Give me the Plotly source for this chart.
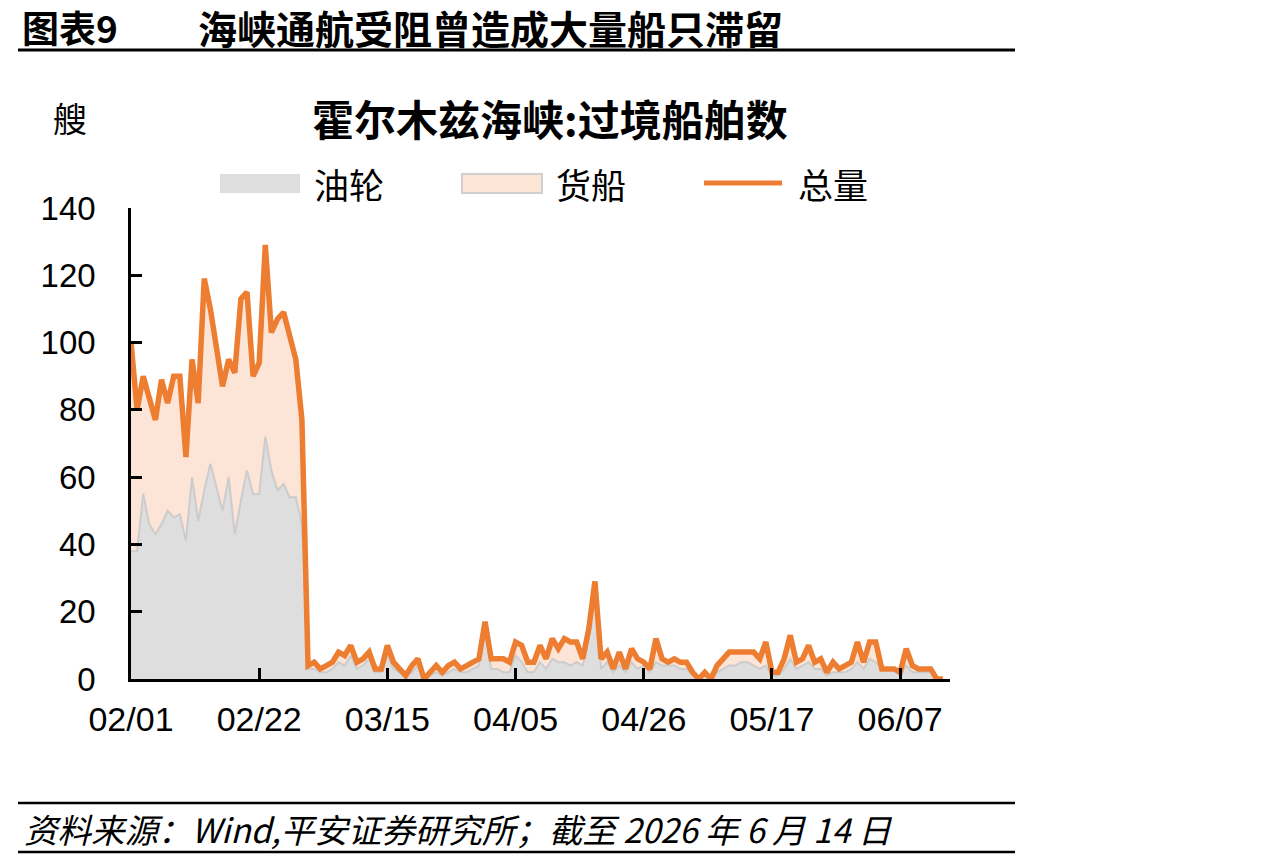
import plotly.graph_objects as go
import pandas as pd

# ---------------- data ----------------
start_date = "2026-02-01"
total = [100, 80, 90, 83, 77, 89, 82, 90, 90, 66,
         95, 82, 119, 110, 98, 87, 95, 91, 113, 115,
         90, 94, 129, 103, 107, 109, 102, 95, 77, 4,
         5, 3, 4, 5, 8, 7, 10, 5, 6, 8,
         3, 3, 10, 5, 3, 1, 4, 6, 0, 2,
         4, 2, 4, 5, 3, 4, 5, 6, 17, 6,
         6, 6, 5, 11, 10, 5, 5, 10, 6, 12,
         9, 12, 11, 11, 6, 15, 29, 6, 8, 3,
         8, 3, 9, 6, 5, 3, 12, 6, 5, 6,
         5, 5, 2, 0, 2, 0, 4, 6, 8, 8,
         8, 8, 8, 6, 11, 2, 2, 6, 13, 5,
         6, 10, 5, 6, 2, 5, 3, 4, 5, 11,
         5, 11, 11, 3, 3, 3, 2, 9, 4, 3,
         3, 3, 0, 0]
tanker = [38, 38, 55, 46, 43, 46, 50, 48, 49, 41,
          60, 47, 56, 64, 57, 50, 60, 43, 53, 62,
          55, 55, 72, 62, 56, 58, 54, 54, 46, 3,
          3, 2, 2, 3, 5, 4, 7, 3, 4, 6,
          2, 2, 7, 3, 2, 1, 2, 4, 0, 1,
          2, 1, 2, 3, 2, 2, 3, 4, 15, 3,
          3, 2, 2, 7, 5, 2, 2, 5, 3, 6,
          5, 5, 4, 5, 4, 12, 26, 3, 5, 2,
          4, 2, 5, 3, 4, 2, 5, 4, 4, 4,
          3, 3, 1, 0, 1, 0, 2, 3, 4, 4,
          5, 5, 4, 3, 4, 1, 1, 3, 6, 3,
          4, 5, 3, 3, 1, 2, 2, 2, 3, 5,
          3, 6, 5, 3, 3, 3, 1, 4, 2, 2,
          2, 2, 0, 0]
tick_dates = ["2026-02-01", "2026-02-22", "2026-03-15", "2026-04-05",
              "2026-04-26", "2026-05-17", "2026-06-07"]
tick_text = ["02/01", "02/22", "03/15", "04/05", "04/26", "05/17", "06/07"]
y_ticks = [0, 20, 40, 60, 80, 100, 120, 140]
series_names = ["油轮", "货船", "总量"]

dates = pd.date_range(start_date, periods=len(total), freq="D")
cargo = [t - k for t, k in zip(total, tanker)]

# ---------------- layout helpers ----------------
W, H = 1267, 859
L, R, T, B = 131, 950, 208, 679


def px(x):
    return (x - L) / (R - L)


def py(y):
    return (B - y) / (B - T)


CJK = "Noto Sans CJK SC, sans-serif"
LAT = "Liberation Sans, Arial, sans-serif"
ORANGE = "#ED7D31"
GREY_FILL = "#DEDEDE"
GREY_LINE = "#CCCCCC"
PEACH = "#FCE4D6"

fig = go.Figure()
fig.add_trace(go.Scatter(x=dates, y=tanker, name=series_names[0], stackgroup="s",
                         mode="lines", line=dict(color=GREY_LINE, width=2),
                         fillcolor=GREY_FILL, hoverinfo="skip"))
fig.add_trace(go.Scatter(x=dates, y=cargo, name=series_names[1], stackgroup="s",
                         mode="lines", line=dict(color="#E6D2C6", width=1),
                         fillcolor=PEACH, hoverinfo="skip"))
fig.add_trace(go.Scatter(x=dates, y=total, name=series_names[2], mode="lines",
                         line=dict(color=ORANGE, width=5.5), hoverinfo="skip"))

shapes = []
# header rule and footer rules
for yy, w in [(50, 3), (803, 2.5), (852, 2.5)]:
    shapes.append(dict(type="line", xref="paper", yref="paper",
                       x0=px(18), x1=px(1015), y0=py(yy), y1=py(yy),
                       line=dict(color="black", width=w)))
# legend symbols
shapes.append(dict(type="rect", xref="paper", yref="paper",
                   x0=px(220), x1=px(300), y0=py(193), y1=py(174),
                   fillcolor=GREY_FILL, line=dict(width=0)))
shapes.append(dict(type="rect", xref="paper", yref="paper",
                   x0=px(462), x1=px(542), y0=py(193), y1=py(174),
                   fillcolor=PEACH, line=dict(color="#CFCFCF", width=2)))
shapes.append(dict(type="line", xref="paper", yref="paper",
                   x0=px(704), x1=px(782), y0=py(183), y1=py(183),
                   line=dict(color=ORANGE, width=5)))

annotations = [
    dict(text="<b>图表9</b>", x=px(20), y=py(27), xanchor="left", yanchor="middle",
         font=dict(family=CJK, size=37, color="black")),
    dict(text="<b>海峡通航受阻曾造成大量船只滞留</b>", x=px(196), y=py(27),
         xanchor="left", yanchor="middle",
         font=dict(family=CJK, size=39, color="black")),
    dict(text="艘", x=px(70), y=py(117), xanchor="center", yanchor="middle",
         font=dict(family=CJK, size=34, color="black")),
    dict(text="<b>霍尔木兹海峡:过境船舶数</b>", x=px(550), y=py(117),
         xanchor="center", yanchor="middle",
         font=dict(family=CJK, size=42, color="black")),
    dict(text=series_names[0], x=px(312), y=py(183), xanchor="left", yanchor="middle",
         font=dict(family=CJK, size=35, color="black")),
    dict(text=series_names[1], x=px(554), y=py(183), xanchor="left", yanchor="middle",
         font=dict(family=CJK, size=35, color="black")),
    dict(text=series_names[2], x=px(796), y=py(183), xanchor="left", yanchor="middle",
         font=dict(family=CJK, size=35, color="black")),
    dict(text="<i>资料来源：Wind,平安证券研究所；截至 2026 年 6 月 14 日</i>",
         x=px(22), y=py(828), xanchor="left", yanchor="middle",
         font=dict(family=CJK, size=33.5, color="black")),
]
for a in annotations:
    a.update(xref="paper", yref="paper", showarrow=False)

fig.update_layout(
    width=W, height=H,
    margin=dict(l=L, r=W - R, t=T, b=H - B, pad=0),
    paper_bgcolor="white", plot_bgcolor="white",
    showlegend=False,
    shapes=shapes, annotations=annotations,
    xaxis=dict(type="date", range=["2026-02-01", "2026-06-15 04:00"],
               tickvals=tick_dates, ticktext=tick_text,
               showgrid=False, zeroline=False,
               showline=True, linecolor="black", linewidth=2.5,
               ticks="inside", ticklen=11, tickwidth=2.5, tickcolor="black",
               tickfont=dict(family=LAT, size=34, color="black"),
               ticklabelstandoff=8),
    yaxis=dict(range=[0, 140], tickvals=y_ticks,
               showgrid=False, zeroline=False,
               showline=True, linecolor="black", linewidth=2.5,
               ticks="inside", ticklen=11, tickwidth=2.5, tickcolor="black",
               tickfont=dict(family=LAT, size=33, color="black"),
               ticklabelstandoff=26),
)

fig.write_html("out.html")
